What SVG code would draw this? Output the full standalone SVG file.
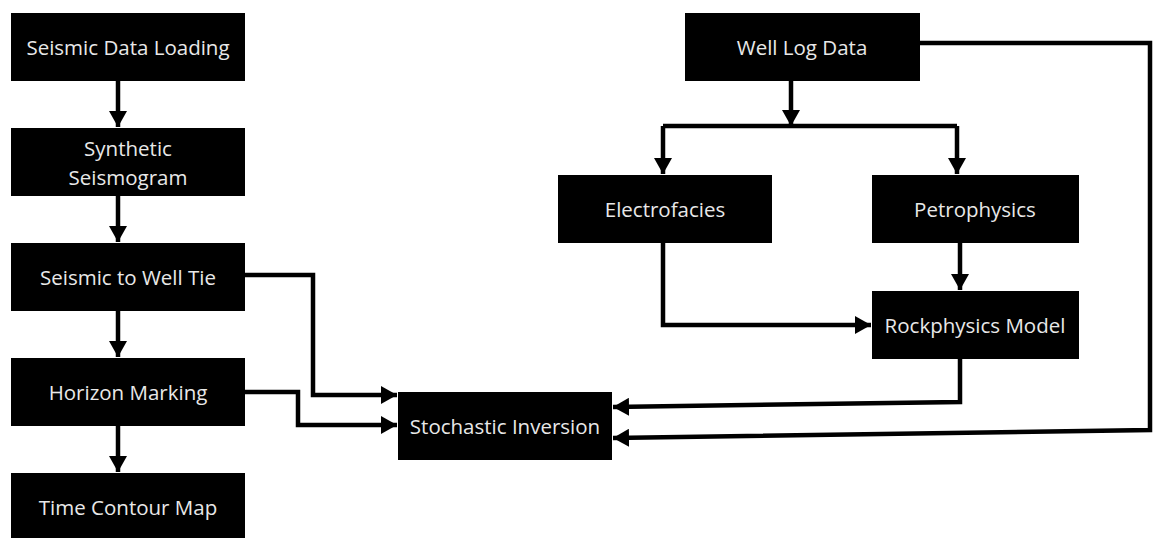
<svg xmlns="http://www.w3.org/2000/svg" width="1159" height="538" viewBox="0 0 1159 538">
<style>
.box{fill:#000;}
.lbl{fill:#e8e8e8;font-family:"Open Sans","Noto Sans",sans-serif;font-size:20.5px;text-anchor:middle;dominant-baseline:central;}
.c{fill:none;stroke:#000;stroke-width:4.5;stroke-linejoin:miter;}
</style>
<defs>
<marker id="ah" markerUnits="userSpaceOnUse" markerWidth="16" markerHeight="18" refX="16" refY="9" orient="auto">
<path d="M0,0 L16,9 L0,18 z" fill="#000"/>
</marker>
</defs>
<rect width="1159" height="538" fill="#fff"/>
<g id="connectors">
<path class="c" d="M118,81 V127" marker-end="url(#ah)"/>
<path class="c" d="M118,196 V242" marker-end="url(#ah)"/>
<path class="c" d="M118,311 V357" marker-end="url(#ah)"/>
<path class="c" d="M118,426 V472" marker-end="url(#ah)"/>
<path class="c" d="M245,275 H313 V395 H397" marker-end="url(#ah)"/>
<path class="c" d="M245,392 H298 V425 H397" marker-end="url(#ah)"/>
<path class="c" d="M791,81 V126" marker-end="url(#ah)"/>
<path class="c" d="M663,126 H957"/>
<path class="c" d="M663,126 V174" marker-end="url(#ah)"/>
<path class="c" d="M957,126 V174" marker-end="url(#ah)"/>
<path class="c" d="M960,243 V290" marker-end="url(#ah)"/>
<path class="c" d="M663,243 V325 H871" marker-end="url(#ah)"/>
<path class="c" d="M960,359 V402 L613,407" marker-end="url(#ah)"/>
<path class="c" d="M920,43 H1150 V430 L613,438" marker-end="url(#ah)"/>
</g>
<g id="n1"><rect class="box" x="11" y="13" width="234" height="68"/><text class="lbl" x="128" y="47">Seismic Data Loading</text></g>
<g id="n2"><rect class="box" x="11" y="128" width="234" height="68"/><text class="lbl" x="128" y="148">Synthetic</text><text class="lbl" x="128" y="177">Seismogram</text></g>
<g id="n3"><rect class="box" x="11" y="243" width="234" height="68"/><text class="lbl" x="128" y="277">Seismic to Well Tie</text></g>
<g id="n4"><rect class="box" x="11" y="358" width="234" height="68"/><text class="lbl" x="128" y="392">Horizon Marking</text></g>
<g id="n5"><rect class="box" x="11" y="473" width="234" height="70"/><text class="lbl" x="128" y="507">Time Contour Map</text></g>
<g id="n6"><rect class="box" x="398" y="392" width="214" height="68"/><text class="lbl" x="505" y="426">Stochastic Inversion</text></g>
<g id="n7"><rect class="box" x="685" y="13" width="235" height="68"/><text class="lbl" x="802" y="47">Well Log Data</text></g>
<g id="n8"><rect class="box" x="558" y="175" width="214" height="68"/><text class="lbl" x="665" y="209">Electrofacies</text></g>
<g id="n9"><rect class="box" x="872" y="175" width="207" height="68"/><text class="lbl" x="975" y="209">Petrophysics</text></g>
<g id="n10"><rect class="box" x="872" y="291" width="207" height="68"/><text class="lbl" x="975" y="325">Rockphysics Model</text></g>
</svg>
